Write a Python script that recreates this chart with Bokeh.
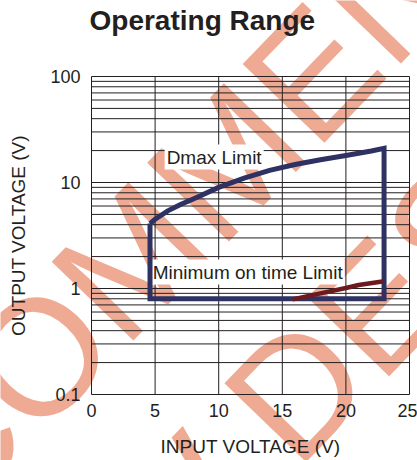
import math
from bokeh.plotting import figure
from bokeh.models import FixedTicker, NumeralTickFormatter, Range1d
from bokeh.core.properties import value
from bokeh.embed import file_html
from bokeh.resources import INLINE

FONT = "Liberation Sans"
INK = "#231f20"

# ---- data ----
x_ticks = [0, 5, 10, 15, 20, 25]
y_ticks = [0.1, 1, 10, 100]
y_tick_labels = ["0.1", "1", "10", "100"]
y_minor = [m * d for d in (0.1, 1, 10) for m in range(2, 10)]

dmax_vin = [4.6, 5, 6, 7, 8, 10, 12, 14, 16, 18, 20, 22, 23]
dmax_vout = [4.1, 4.5, 5.4, 6.2, 7.0, 9.0, 11.0, 13.0, 14.8, 16.4, 18.0, 19.8, 21.0]
box_vin = [23, 23, 4.6, 4.6]
box_vout = [21.0, 0.8, 0.8, 4.1]

ton_vin = [15.8, 18, 20, 21, 23]
ton_vout = [0.79, 0.90, 1.01, 1.08, 1.17]

label_text = ["Dmax Limit", "Minimum on time Limit"]
label_vin = [5.75, 4.65]
label_vout = [15.1, 1.24]

title_text = ["Operating Range"]

wm_text = ["NOT RECOMMENDED", "FOR NEW DESIGNS"]
wm_x = [-1.0, 10.68]
wm_y = [0.562, 0.0233]

# ---- layout (pixels) ----
W, H = 417, 460
left, right, top, bottom = 91, 409, 76, 394
xmin, xmax = x_ticks[0], x_ticks[-1]
ymin, ymax = y_ticks[0], y_ticks[-1]
sx = (right - left) / (xmax - xmin)
dec = (bottom - top) / (math.log10(ymax) - math.log10(ymin))
x_range = Range1d(xmin - left / sx, xmax + (W - right) / sx)
y_range = Range1d(10 ** (math.log10(ymin) - (H - bottom) / dec),
                  10 ** (math.log10(ymax) + top / dec))

p = figure(width=W, height=H, x_range=x_range, y_range=y_range,
           y_axis_type="log", output_backend="svg", toolbar_location=None,
           min_border=0, title=None, background_fill_color="white",
           border_fill_color="white", outline_line_color=None)
p.grid.visible = False

# watermark (beneath everything)
p.text(x=wm_x, y=wm_y, text=wm_text, angle=math.radians(46), text_font=value(FONT),
       text_font_size="165px", text_color="#EFAA94", text_align="center",
       text_baseline="alphabetic", level="image")

# grid / frame
nx = len(x_ticks)
p.segment(x0=x_ticks, y0=[ymin] * nx, x1=x_ticks, y1=[ymax] * nx,
          line_color=INK, line_width=1)
hy = y_ticks + y_minor
p.segment(x0=[xmin] * len(hy), y0=hy, x1=[xmax] * len(hy), y1=hy,
          line_color=INK, line_width=1)

# axes
xt = FixedTicker(ticks=x_ticks)
yt = FixedTicker(ticks=y_ticks, minor_ticks=y_minor)
p.xaxis.ticker = xt
p.yaxis.ticker = yt
p.xaxis.fixed_location = ymin
p.yaxis.fixed_location = xmin
p.xaxis.bounds = (xmin, xmax)
p.yaxis.bounds = (ymin, ymax)
p.yaxis.formatter = NumeralTickFormatter(format="0.[0]")
p.yaxis.major_label_overrides = dict(zip(y_ticks, y_tick_labels))
for ax in (p.xaxis, p.yaxis):
    ax.axis_line_color = None
    ax.major_tick_in = 0
    ax.major_tick_out = 0
    ax.minor_tick_in = 0
    ax.minor_tick_out = 0
    ax.major_label_text_font = FONT
    ax.major_label_text_font_size = "18px"
    ax.major_label_text_color = INK
    ax.axis_label_text_font = FONT
    ax.axis_label_text_font_size = "19px"
    ax.axis_label_text_font_style = "normal"
    ax.axis_label_text_color = INK
p.xaxis.axis_label = "INPUT VOLTAGE (V)"
p.yaxis.axis_label = "OUTPUT VOLTAGE (V)"
p.xaxis.major_label_standoff = 9
p.yaxis.major_label_standoff = 11
p.xaxis.axis_label_standoff = 16
p.yaxis.axis_label_standoff = 18

# title
p.text(x=[xmin], y=[ymax], text=title_text, text_font=value(FONT),
       text_font_size="28px", text_font_style="bold", text_color=INK,
       text_align="left", text_baseline="alphabetic", x_offset=-2, y_offset=-56)

# labels with white boxes
p.text(x=label_vin, y=label_vout, text=label_text, text_font=value(FONT),
       text_font_size="19px", text_color=INK, text_align="left",
       text_baseline="alphabetic", y_offset=-6.5,
       background_fill_color="white", padding=2)

# operating range outline
p.line(dmax_vin + box_vin, dmax_vout + box_vout, line_color="#2d3263",
       line_width=5, line_join="miter")
p.line(ton_vin, ton_vout, line_color="#6d1a1f", line_width=4.5)

open("out.html", "w").write(file_html(p, INLINE))
